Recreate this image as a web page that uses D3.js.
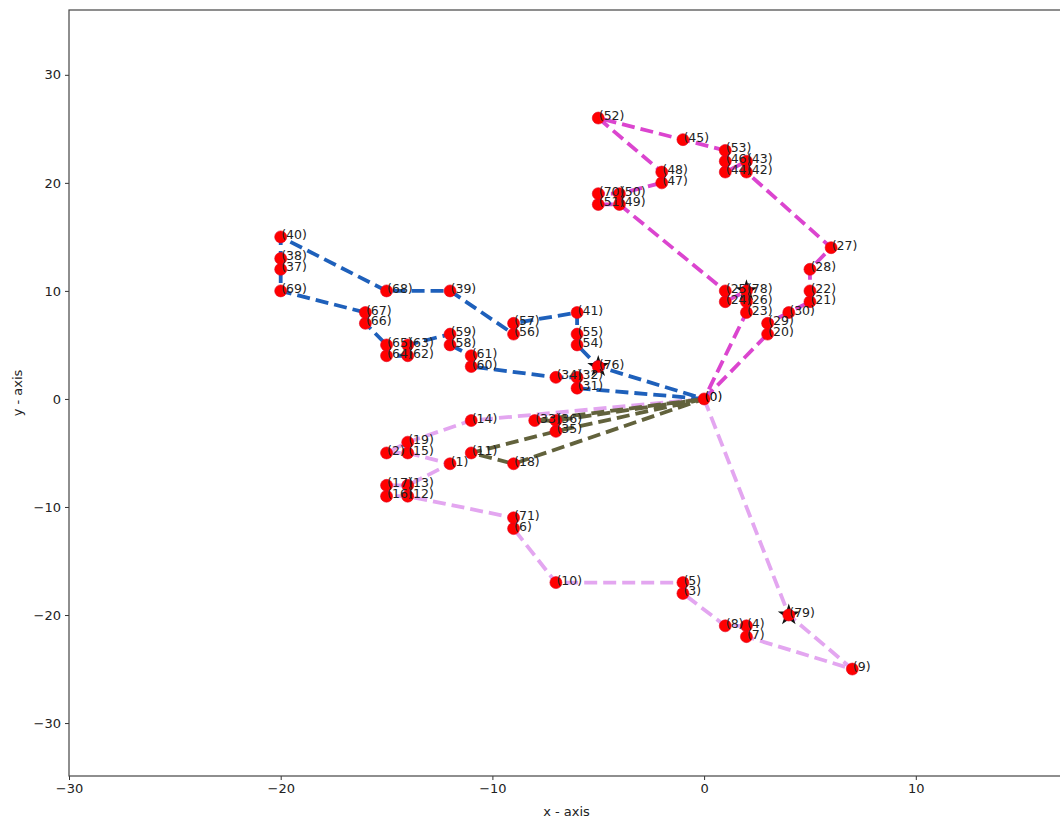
<!DOCTYPE html>
<html>
<head>
<meta charset="utf-8">
<script src="https://cdn.jsdelivr.net/npm/d3@7"></script>
<style>
  html, body { margin: 0; padding: 0; background: #fff; }
  svg { display: block; font-family: "DejaVu Sans", sans-serif; }
</style>
</head>
<body>
<svg id="chart" width="1060" height="824"></svg>
<script>
// Node ids and their coordinates
const nodeIds = [0,1,2,3,4,5,6,7,8,9,10,11,12,13,14,15,16,17,18,19,20,21,22,23,24,25,26,27,28,29,30,
  31,32,33,34,35,36,37,38,39,40,41,42,43,44,45,46,47,48,49,50,51,52,53,54,55,56,57,58,59,60,
  61,62,63,64,65,66,67,68,69,70,71,76,78,79];
const nodeX = [0,-12,-15,-1,2,-1,-9,2,1,7,-7,-11,-14,-14,-11,-14,-15,-15,-9,-14,3,5,5,2,1,1,2,6,5,3,4,
  -6,-6,-8,-7,-7,-7,-20,-20,-12,-20,-6,2,2,1,-1,1,-2,-2,-4,-4,-5,-5,1,-6,-6,-9,-9,-12,-12,-11,
  -11,-14,-14,-15,-15,-16,-16,-15,-20,-5,-9,-5,2,4];
const nodeY = [0,-6,-5,-18,-21,-17,-12,-22,-21,-25,-17,-5,-9,-8,-2,-5,-9,-8,-6,-4,6,9,10,8,9,10,9,14,12,7,8,
  1,2,-2,2,-3,-2,12,13,10,15,8,21,22,21,24,22,20,21,18,19,18,26,23,5,6,6,7,5,6,3,
  4,4,5,4,5,7,8,10,10,19,-11,3,10,-20];
// Station nodes drawn with a star
const stationIds = [76, 78, 79];

// Routes (sequence of visited node ids)
const routeLavender = [0,79,9,7,4,8,3,5,10,6,71,12,16,17,13,1,15,2,19,14,0];
const routeMagenta = [0,20,29,30,21,22,28,27,42,43,44,46,53,45,52,48,47,50,70,51,49,25,24,78,26,23,0];
const routeBlue = [0,31,32,34,60,61,58,59,63,62,64,65,66,67,69,37,38,40,68,39,56,57,41,55,54,76,0];
const routeOlive = [0,36,33,0,35,11,18,0];
const routeColors = ["#e3a6f0", "#db45cf", "#1e60bb", "#62623c"];

// Axis ticks
const xTicks = [-30,-20,-10,0,10];
const yTicks = [-30,-20,-10,0,10,20,30];

(function () {
  const svg = d3.select("#chart");
  const pLeft = 69, pTop = 10, pBottom = 776, pRight = 1064;
  const x = d3.scaleLinear().domain([-30, 17]).range([pLeft, pRight]);
  const y = d3.scaleLinear().domain([-34.9, 36]).range([pBottom, pTop]);

  const pos = {};
  nodeIds.forEach((id, i) => { pos[id] = [nodeX[i], nodeY[i]]; });

  const fmt = d => d < 0 ? "\u2212" + Math.abs(d) : String(d);

  // Axes
  const xAxis = svg.append("g").attr("transform", `translate(0,${pBottom})`)
    .call(d3.axisBottom(x).tickValues(xTicks).tickSize(4).tickPadding(4).tickFormat(fmt));
  const yAxis = svg.append("g").attr("transform", `translate(${pLeft},0)`)
    .call(d3.axisLeft(y).tickValues(yTicks).tickSize(4).tickPadding(4).tickFormat(fmt));
  [xAxis, yAxis].forEach(g => {
    g.select(".domain").remove();
    g.selectAll("line").attr("stroke", "#333");
    g.selectAll("text").attr("fill", "#222").style("font-size", "13px")
      .style("font-family", "DejaVu Sans, sans-serif");
  });

  // Frame
  svg.append("rect").attr("x", pLeft).attr("y", pTop)
    .attr("width", pRight - pLeft).attr("height", pBottom - pTop)
    .attr("fill", "none").attr("stroke", "#444").attr("stroke-width", 1.2);

  // Axis titles
  svg.append("text").attr("x", (pLeft + pRight) / 2).attr("y", 816)
    .attr("text-anchor", "middle").attr("fill", "#222").style("font-size", "13px").text("x - axis");
  svg.append("text").attr("transform", `translate(22,${(pTop + pBottom) / 2}) rotate(-90)`)
    .attr("text-anchor", "middle").attr("fill", "#222").style("font-size", "13px").text("y - axis");

  // Route lines
  const line = d3.line().x(d => x(pos[d][0])).y(d => y(pos[d][1]));
  [routeLavender, routeMagenta, routeBlue, routeOlive].forEach((r, i) => {
    svg.append("path").datum(r).attr("d", line)
      .attr("fill", "none").attr("stroke", routeColors[i])
      .attr("stroke-width", 3.8).attr("stroke-dasharray", "13,6");
  });

  // Station stars
  svg.selectAll(".star").data(stationIds).join("path")
    .attr("class", "star")
    .attr("transform", d => `translate(${x(pos[d][0])},${y(pos[d][1])})`)
    .attr("d", d3.symbol().type(d3.symbolStar).size(150))
    .attr("fill", "#111");

  // Node markers
  svg.selectAll(".node").data(nodeIds).join("circle")
    .attr("class", "node")
    .attr("cx", d => x(pos[d][0])).attr("cy", d => y(pos[d][1]))
    .attr("r", 6).attr("fill", "#f00").attr("stroke", "#e00020").attr("stroke-width", 0.6);

  // Node labels
  svg.selectAll(".lbl").data(nodeIds).join("text")
    .attr("class", "lbl")
    .attr("x", d => x(pos[d][0]) + 0.5).attr("y", d => y(pos[d][1]) + 2)
    .attr("fill", d => d === 0 ? "#000" : "#222")
    .style("font-size", "12.5px")
    .text(d => `(${d})`);
})();
</script>
</body>
</html>
